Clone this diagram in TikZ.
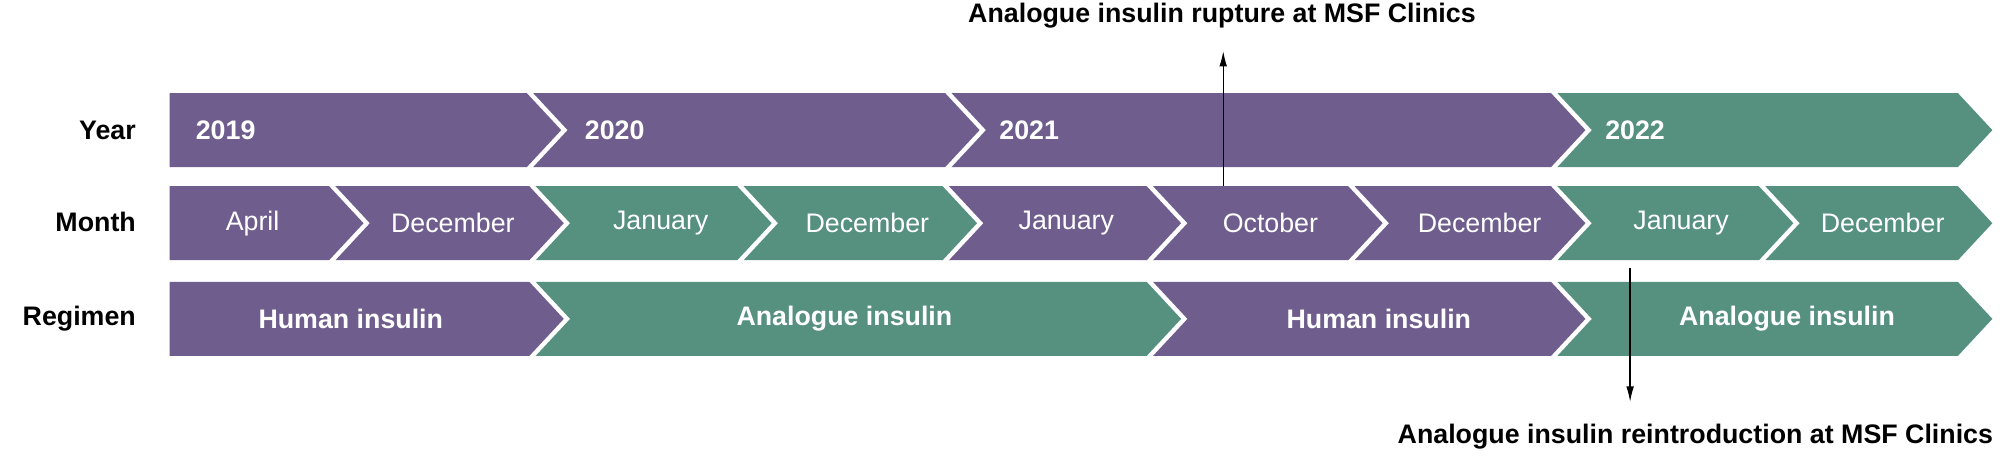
\documentclass[tikz,border=0pt]{standalone}
\usepackage{fontspec}
\setmainfont{Liberation Sans}
\usetikzlibrary{positioning,arrows.meta}

\definecolor{purp}{HTML}{6F5E8D}
\definecolor{teal}{HTML}{56907F}

% one chevron: left x, tip x, centre y, colour, notch depth
\newcommand{\seg}[5]{%
  \fill[#4] (#1,#3+29) -- (#2-27,#3+29) -- (#2,#3) -- (#2-27,#3-29)
    -- (#1,#3-29) -- (#1+#5,#3) -- cycle;}

\begin{document}
\begin{tikzpicture}[x=1pt,y=1pt,
		rowlab/.style={font=\fontsize{21}{24}\selectfont\bfseries, anchor=east},
		seglab/.style={font=\fontsize{21}{24}\selectfont, text=white},
		reglab/.style={font=\fontsize{21}{24}\selectfont\bfseries, text=white},
		note/.style={font=\fontsize{21}{24}\selectfont\bfseries},
		link/.style={-{Latex[length=12pt,width=6pt]}, line width=1pt}]
	\useasboundingbox (0,0) rectangle (1568,-357.5);

	% row labels
	\node[rowlab] (year) at (110,-102) {Year};
	\node[rowlab] (month) at (110,-174) {Month};
	\node[rowlab] (regimen) at (110,-250) {Regimen};

	% years
	\seg{133}{440}{-102}{purp}{0}
	\foreach \l/\t/\c in {418/768/purp, 746/1243/purp, 1221/1562/teal}
		{\seg{\l}{\t}{-102}{\c}{27}}
	\node[reglab, anchor=west] (y19) at (150,-102) {2019};
	\node[reglab, anchor=west] (y20) at (455,-102) {2020};
	\node[reglab, anchor=west] (y21) at (780,-102) {2021};
	\node[reglab, anchor=west] (y22) at (1255,-102) {2022};

	% months
	\seg{133}{285}{-175}{purp}{0}
	\foreach \l/\t/\c in {263/442/purp, 420/605/teal, 583/766/teal, 744/926/purp,
		904/1084/purp, 1062/1243/purp, 1221/1406/teal, 1384/1562/teal}
		{\seg{\l}{\t}{-175}{\c}{27}}
	\foreach \x/\m [count=\i] in {198/April, 355/December, 518/January, 680/December,
		836/January, 996/October, 1160/December, 1318/January, 1476/December}
		\node[seglab] (m\i) at (\x,-175) {\m};

	% regimen
	\seg{133}{442}{-250}{purp}{0}
	\foreach \l/\t/\c in {420/926/teal, 904/1243/purp, 1221/1562/teal}
		{\seg{\l}{\t}{-250}{\c}{27}}
	\node[reglab] (r1) at (275,-250) {Human insulin};
	\node[reglab] (r2) at (662,-250) {Analogue insulin};
	\node[reglab] (r3) at (1081,-250) {Human insulin};
	\node[reglab] (r4) at (1401,-250) {Analogue insulin};

	% events
	\node[note] (rupture) at (958,-12) {Analogue insulin rupture at MSF Clinics};
	\node[note, anchor=east] (reintro) at (1566,-342) {Analogue insulin reintroduction at MSF Clinics};
	\coordinate (rup0) at (959,-146);
	\coordinate (rup1) at (959,-40);
	\coordinate (rei0) at (1278,-210);
	\coordinate (rei1) at (1278,-315);
	\draw[link] (rup0) -- (rup1);
	\draw[link] (rei0) -- (rei1);
\end{tikzpicture}
\end{document}
